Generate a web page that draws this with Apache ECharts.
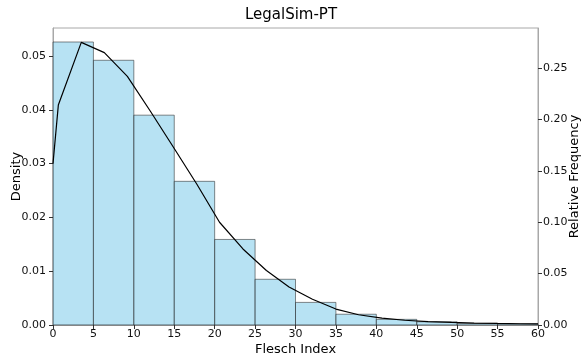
<!DOCTYPE html>
<html>
<head>
<meta charset="utf-8">
<script src="https://cdn.jsdelivr.net/npm/echarts@6/dist/echarts.min.js"></script>
<style>
html,body{margin:0;padding:0;background:#fff;}
#main{width:582px;height:353px;}
</style>
</head>
<body>
<div id="main"></div>
<script>
// Histogram bins (Flesch Index) and densities
var binStarts = [0, 5, 10, 15, 20, 25, 30, 35, 40, 45, 50, 55];
var binEnds   = [5, 10, 15, 20, 25, 30, 35, 40, 45, 50, 55, 60];
var densities = [0.0526, 0.0492, 0.0390, 0.0267, 0.0159, 0.0085, 0.0042, 0.0020, 0.00105, 0.0006, 0.0003, 0.0002];

// Relative-frequency curve (right axis)
var curveX = [0, 0.66, 3.5, 6.35, 9.2, 12.05, 14.9, 17.8, 20.6, 23.5, 26.4, 29.2, 32.1, 35, 37.8, 40.7, 43.5, 46.4, 49.3, 52.1, 55, 57.8, 60];
var curveY = [0.157, 0.214, 0.275, 0.265, 0.242, 0.208, 0.173, 0.137, 0.100, 0.074, 0.053, 0.037, 0.025, 0.0155, 0.010, 0.0066, 0.0046, 0.0033, 0.0025, 0.0019, 0.0015, 0.0012, 0.0010];

var xTicks = [0, 5, 10, 15, 20, 25, 30, 35, 40, 45, 50, 55, 60];
var leftTicks = [0, 0.01, 0.02, 0.03, 0.04, 0.05];
var rightTicks = [0, 0.05, 0.10, 0.15, 0.20, 0.25];

var barData = binStarts.map(function (s, i) { return [s, binEnds[i], densities[i]]; });
var lineData = curveX.map(function (x, i) { return [x, curveY[i]]; });

var FONT = 'DejaVu Sans';
var spine = '#a8a8a8';

var chart = echarts.init(document.getElementById('main'), null, {renderer: 'canvas'});
chart.setOption({
  animation: false,
  backgroundColor: '#fff',
  textStyle: {fontFamily: FONT},
  title: {
    text: 'LegalSim-PT',
    left: 'center',
    top: 8,
    padding: 0,
    textStyle: {fontFamily: FONT, fontSize: 15, fontWeight: 'normal', color: '#000'}
  },
  grid: {left: 53, right: 44, top: 28, bottom: 28, containLabel: false, outerBoundsMode: 'none',
    show: true, borderColor: spine, borderWidth: 1, backgroundColor: 'transparent'},
  xAxis: {
    type: 'value', min: 0, max: 60, interval: 5,
    name: 'Flesch Index', nameLocation: 'middle', nameGap: 18, nameMoveOverlap: false,
    nameTextStyle: {fontFamily: FONT, fontSize: 13, color: '#000'},
    axisLine: {show: true, lineStyle: {color: spine}},
    axisTick: {show: true, length: 4, lineStyle: {color: '#333'}},
    axisLabel: {fontFamily: FONT, fontSize: 11, color: '#111', margin: 4,
      customValues: xTicks, formatter: function (v) { return String(v); }},
    splitLine: {show: false}
  },
  yAxis: [{
    type: 'value', min: 0, max: 0.0552,
    name: 'Density', nameLocation: 'middle', nameGap: 30, nameMoveOverlap: false,
    nameTextStyle: {fontFamily: FONT, fontSize: 13, color: '#000'},
    axisLine: {show: true, lineStyle: {color: spine}},
    axisTick: {show: true, length: 4, lineStyle: {color: '#333'}, customValues: leftTicks},
    axisLabel: {fontFamily: FONT, fontSize: 11, color: '#111', margin: 7,
      customValues: leftTicks, formatter: function (v) { return v.toFixed(2); }},
    splitLine: {show: false}
  }, {
    type: 'value', min: 0, max: 0.289, position: 'right',
    name: 'Relative Frequency', nameLocation: 'middle', nameGap: 30, nameMoveOverlap: false,
    nameTextStyle: {fontFamily: FONT, fontSize: 13, color: '#000'},
    axisLine: {show: true, lineStyle: {color: spine}},
    axisTick: {show: true, length: 4, lineStyle: {color: '#333'}, customValues: rightTicks},
    axisLabel: {fontFamily: FONT, fontSize: 11, color: '#111', margin: 5,
      customValues: rightTicks, formatter: function (v) { return v.toFixed(2); }},
    splitLine: {show: false}
  }],
  series: [{
    type: 'custom',
    xAxisIndex: 0, yAxisIndex: 0,
    encode: {x: [0, 1], y: 2},
    data: barData,
    renderItem: function (params, api) {
      var p0 = api.coord([api.value(0), 0]);
      var p1 = api.coord([api.value(1), api.value(2)]);
      return {
        type: 'rect',
        shape: {x: p0[0], y: p1[1], width: p1[0] - p0[0], height: p0[1] - p1[1]},
        style: {fill: 'rgba(135,206,235,0.6)', stroke: 'rgba(40,40,40,0.55)', lineWidth: 1}
      };
    }
  }, {
    type: 'line',
    xAxisIndex: 0, yAxisIndex: 1,
    data: lineData,
    showSymbol: false,
    symbol: 'none',
    lineStyle: {color: '#000', width: 1.2},
    z: 5
  }]
});
</script>
</body>
</html>
